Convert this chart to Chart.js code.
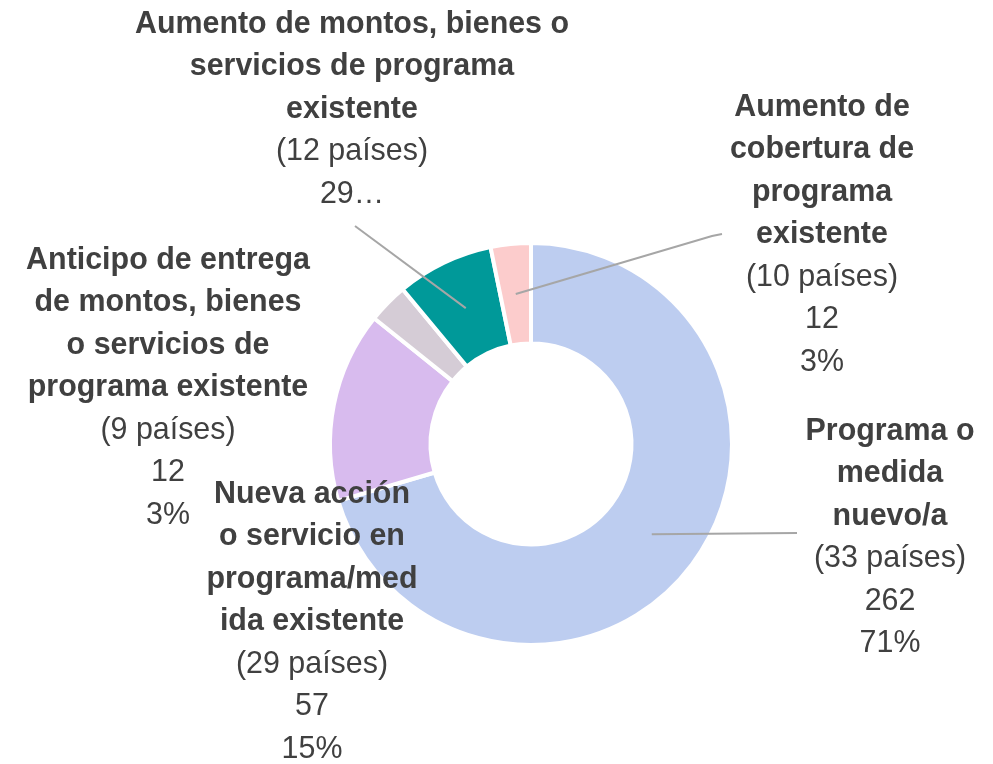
<!DOCTYPE html>
<html>
<head>
<meta charset="utf-8">
<script src="https://cdn.jsdelivr.net/npm/chart.js@4.4.0/dist/chart.umd.min.js"></script>
<style>
    html, body { margin: 0; padding: 0; background: #ffffff; }
    #wrap { width: 993px; height: 764px; position: relative; }
</style>
</head>
<body>
<div id="wrap"><canvas id="donut"></canvas></div>
<script>
// Data, clockwise from the top
const categories = [
    ['Programa o', 'medida', 'nuevo/a'],
    ['Nueva acción', 'o servicio en', 'programa/med', 'ida existente'],
    ['Anticipo de entrega', 'de montos, bienes', 'o servicios de', 'programa existente'],
    ['Aumento de montos, bienes o', 'servicios de programa', 'existente'],
    ['Aumento de', 'cobertura de', 'programa', 'existente']
];
const values = [262, 57, 12, 29, 12];
const countries = ['(33 países)', '(29 países)', '(9 países)', '(12 países)', '(10 países)'];
const valueLabels = ['262', '57', '12', '29…', '12'];
const percentLabels = ['71%', '15%', '3%', '', '3%'];
const colors = ['#bdcdf0', '#d8bbee', '#d5ccd6', '#009999', '#fccccc'];

// Where each label block sits (center x, first line y) and its leader line
const labelPos = [
    { x: 890, y: 431, line: [[797, 533]] },
    { x: 312, y: 494, line: null },
    { x: 168, y: 260, line: null },
    { x: 352, y: 24, line: [[355, 226]] },
    { x: 822, y: 107, line: [[722, 234], [712, 236]] }
];

// slightly condensed Liberation Sans, close to the original narrow face
const FONT = '"Liberation Sans", Arial, sans-serif';
const SQUEEZE = 0.95;
const LINE_H = 42.5;

function narrowText(ctx, text, x, y) {
    ctx.save();
    ctx.translate(x, y);
    ctx.scale(SQUEEZE, 1);
    ctx.fillText(text, 0, 0);
    ctx.restore();
}

const outsideLabels = {
    id: 'outsideLabels',
    afterDatasetsDraw(chart) {
        const ctx = chart.ctx;
        const arcs = chart.getDatasetMeta(0).data;
        ctx.save();

        // leader lines
        ctx.strokeStyle = '#a6a6a6';
        ctx.lineWidth = 2;
        arcs.forEach((arc, i) => {
            const pos = labelPos[i];
            if (!pos.line) return;
            const p = arc.getCenterPoint();
            ctx.beginPath();
            ctx.moveTo(pos.line[0][0], pos.line[0][1]);
            for (let k = 1; k < pos.line.length; k++) {
                ctx.lineTo(pos.line[k][0], pos.line[k][1]);
            }
            ctx.lineTo(p.x, p.y);
            ctx.stroke();
        });

        // text blocks
        ctx.fillStyle = '#404040';
        ctx.textAlign = 'center';
        ctx.textBaseline = 'middle';
        categories.forEach((lines, i) => {
            const pos = labelPos[i];
            let y = pos.y;
            ctx.font = 'bold 32px ' + FONT;
            lines.forEach(t => {
                narrowText(ctx, t, pos.x, y);
                y += LINE_H;
            });
            ctx.font = '32px ' + FONT;
            [countries[i], valueLabels[i], percentLabels[i]].forEach(t => {
                if (!t) return;
                narrowText(ctx, t, pos.x, y);
                y += LINE_H;
            });
        });
        ctx.restore();
    }
};

const donutChart = new Chart(document.getElementById('donut'), {
    type: 'doughnut',
    data: {
        labels: categories.map(c => c.join(' ')),
        datasets: [{
            data: values,
            backgroundColor: colors,
            borderColor: '#ffffff',
            borderWidth: 4
        }]
    },
    options: {
        responsive: true,
        maintainAspectRatio: false,
        animation: false,
        cutout: '50%',
        layout: {
            padding: { left: 328, right: 259, top: 241, bottom: 117 }
        },
        plugins: {
            legend: { display: false },
            tooltip: { enabled: false }
        }
    },
    plugins: [outsideLabels]
});
</script>
</body>
</html>
